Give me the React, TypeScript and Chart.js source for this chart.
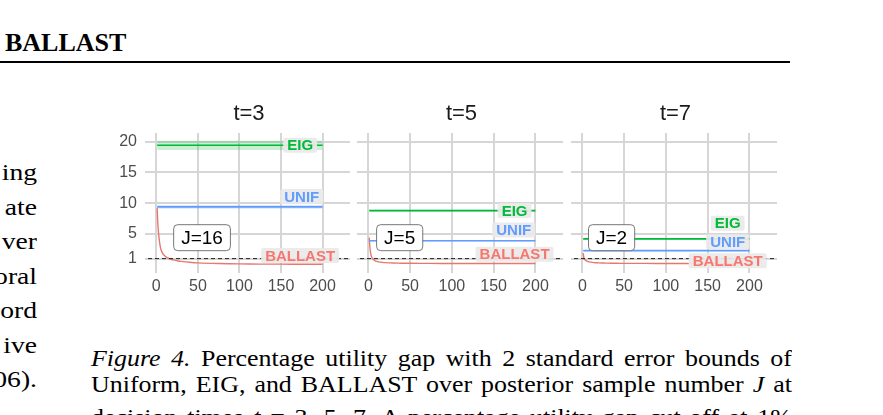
import { useEffect, useRef } from 'react';
import { Chart, registerables } from 'chart.js';

Chart.register(...registerables);

// posterior sample number J at which BALLAST is evaluated
const sampleJ = [1, 2, 3, 4, 5, 6, 8, 10, 12, 14, 16, 20, 25, 30, 40, 50, 75, 100, 125, 150, 175, 200];

// percentage utility gap of BALLAST, one list per decision time
const ballastT3 = [9.2, 6.3, 4.7, 3.6, 2.8, 2.3, 1.75, 1.45, 1.25, 1.1, 0.98, 0.8, 0.66, 0.55, 0.4, 0.3, 0.2, 0.14, 0.11, 0.1, 0.09, 0.08];
const ballastT5 = [4.4, 2.6, 1.7, 1.25, 1.0, 0.85, 0.65, 0.55, 0.48, 0.43, 0.4, 0.35, 0.31, 0.28, 0.25, 0.24, 0.22, 0.21, 0.2, 0.2, 0.2, 0.2];
const ballastT7 = [1.9, 0.98, 0.8, 0.7, 0.62, 0.56, 0.48, 0.42, 0.38, 0.35, 0.33, 0.3, 0.28, 0.26, 0.24, 0.23, 0.22, 0.21, 0.2, 0.2, 0.2, 0.2];

const panelTitles = ['t=3', 't=5', 't=7'];
const eigGap = [19.4, 8.8, 4.2];
const eigSe = [0.75, 0.15, 0.12];
const unifGap = [9.4, 3.9, 2.3];
const unifSe = [0.3, 0.12, 0.1];
const cutoffJ = [16, 5, 2];
const cutoffGap = 1;

const xTicks = [0, 50, 100, 150, 200];
const yTicks = [1, 5, 10, 15, 20];

const GREEN = '#00BA38';
const BLUE = '#619CFF';
const RED = '#F8766D';
const SANS = '"Liberation Sans", Arial, sans-serif';
const SERIF = '"Liberation Serif", "Times New Roman", serif';

// where the text labels sit (data coordinates)
const labelSpots = [
  { eig: [173, 19.4], unif: [175, 11.1], ballast: [173, 1.5], j: [55, 4.4] },
  { eig: [175, 8.8], unif: [174, 5.65], ballast: [175, 1.7], j: [37.5, 4.4] },
  { eig: [174, 6.75], unif: [174, 3.75], ballast: [174, 0.67], j: [35, 4.4] },
];

const panelBoxes = [
  { left: 100, width: 255, axisWidth: 48, showY: true },
  { left: 355, width: 213, axisWidth: 5, showY: false },
  { left: 568, width: 214, axisWidth: 6, showY: false },
];

function band(mean: number, se: number, sign: number) {
  return [sampleJ[0], sampleJ[sampleJ.length - 1]].map((j) => ({ x: j, y: mean + sign * se }));
}

function roundRect(ctx: CanvasRenderingContext2D, x: number, y: number, w: number, h: number, r: number) {
  ctx.beginPath();
  ctx.moveTo(x + r, y);
  ctx.lineTo(x + w - r, y);
  ctx.quadraticCurveTo(x + w, y, x + w, y + r);
  ctx.lineTo(x + w, y + h - r);
  ctx.quadraticCurveTo(x + w, y + h, x + w - r, y + h);
  ctx.lineTo(x + r, y + h);
  ctx.quadraticCurveTo(x, y + h, x, y + h - r);
  ctx.lineTo(x, y + r);
  ctx.quadraticCurveTo(x, y, x + r, y);
  ctx.closePath();
}

function Panel({ index }: { index: number }) {
  const canvasRef = useRef<HTMLCanvasElement>(null);
  const chartRef = useRef<Chart | null>(null);
  const box = panelBoxes[index];

  useEffect(() => {
    if (!canvasRef.current) return;
    const ctx = canvasRef.current.getContext('2d');
    if (!ctx) return;
    if (chartRef.current) chartRef.current.destroy();

    const ballast = [ballastT3, ballastT5, ballastT7][index];
    const spots = labelSpots[index];

    const decor = {
      id: 'decor',
      afterDatasetsDraw(chart: any) {
        const { ctx: c, chartArea, scales } = chart;
        const xs = scales.x;
        const ys = scales.y;
        c.save();
        // 1% cut-off
        const yc = ys.getPixelForValue(cutoffGap);
        c.beginPath();
        c.setLineDash([4, 3]);
        c.strokeStyle = '#222';
        c.lineWidth = 1;
        c.moveTo(chartArea.left, yc);
        c.lineTo(chartArea.right, yc);
        c.stroke();
        c.setLineDash([]);

        const tags: [string, number[], string][] = [
          ['EIG', spots.eig, GREEN],
          ['UNIF', spots.unif, BLUE],
          ['BALLAST', spots.ballast, RED],
        ];
        c.font = `bold 15px ${SANS}`;
        c.textAlign = 'center';
        c.textBaseline = 'middle';
        for (const [text, pos, col] of tags) {
          const px = xs.getPixelForValue(pos[0]);
          const py = ys.getPixelForValue(pos[1]);
          const w = c.measureText(text).width + 8;
          const h = 15;
          roundRect(c, px - w / 2, py - h / 2, w, h, 2);
          c.fillStyle = 'rgba(233,233,233,0.93)';
          c.fill();
          c.fillStyle = col;
          c.fillText(text, px, py + 1);
        }

        // J label
        const jt = `J=${cutoffJ[index]}`;
        c.font = `19px ${SANS}`;
        const jx = xs.getPixelForValue(spots.j[0]);
        const jy = ys.getPixelForValue(spots.j[1]);
        const jw = c.measureText(jt).width + 15;
        const jh = 26;
        roundRect(c, jx - jw / 2, jy - jh / 2, jw, jh, 4);
        c.fillStyle = '#ffffff';
        c.fill();
        c.strokeStyle = '#555';
        c.lineWidth = 0.8;
        c.stroke();
        c.fillStyle = '#000';
        c.fillText(jt, jx, jy + 1);

        // panel title
        c.font = `22px ${SANS}`;
        c.fillStyle = '#1a1a1a';
        c.fillText(panelTitles[index], (chartArea.left + chartArea.right) / 2, 19);
        c.restore();
      },
    };

    chartRef.current = new Chart(ctx, {
      type: 'line',
      data: {
        datasets: [
          { data: band(eigGap[index], eigSe[index], -1), borderWidth: 0, pointRadius: 0, fill: false },
          { data: band(eigGap[index], eigSe[index], 1), borderWidth: 0, pointRadius: 0, fill: '-1', backgroundColor: 'rgba(0,186,56,0.22)' },
          { data: band(eigGap[index], 0, 1), borderColor: GREEN, borderWidth: 1.6, pointRadius: 0 },
          { data: band(unifGap[index], unifSe[index], -1), borderWidth: 0, pointRadius: 0, fill: false },
          { data: band(unifGap[index], unifSe[index], 1), borderWidth: 0, pointRadius: 0, fill: '-1', backgroundColor: 'rgba(97,156,255,0.22)' },
          { data: band(unifGap[index], 0, 1), borderColor: BLUE, borderWidth: 1.6, pointRadius: 0 },
          { data: sampleJ.map((j, i) => ({ x: j, y: ballast[i] })), borderColor: '#E8776E', borderWidth: 1.4, pointRadius: 0, tension: 0.3 },
        ],
      },
      options: {
        animation: false,
        responsive: true,
        maintainAspectRatio: false,
        layout: { padding: { top: 38, right: 5, left: 0, bottom: 0 } },
        plugins: { legend: { display: false }, tooltip: { enabled: false } },
        scales: {
          x: {
            type: 'linear',
            min: -10,
            max: 233,
            afterBuildTicks: (s: any) => { s.ticks = xTicks.map((v) => ({ value: v })); },
            afterFit: (s: any) => { s.height = 35; },
            grid: { color: '#d6d6d6', lineWidth: 2, tickLength: 3 },
            border: { display: false },
            ticks: { color: '#4d4d4d', font: { family: SANS, size: 16 }, padding: 4, maxRotation: 0, autoSkip: false },
          },
          y: {
            type: 'linear',
            min: -0.85,
            max: 21.4,
            afterBuildTicks: (s: any) => { s.ticks = yTicks.map((v) => ({ value: v })); },
            afterFit: (s: any) => { s.width = box.axisWidth; },
            grid: { color: '#d6d6d6', lineWidth: 2, tickLength: 3 },
            border: { display: false },
            ticks: { display: box.showY, color: '#4d4d4d', font: { family: SANS, size: 16 }, padding: 8 },
          },
        },
      },
      plugins: [decor],
    } as any);

    return () => {
      if (chartRef.current) {
        chartRef.current.destroy();
        chartRef.current = null;
      }
    };
  }, [index]);

  return (
    <div style={{ position: 'absolute', left: box.left, top: 95, width: box.width, height: 210 }}>
      <canvas ref={canvasRef} />
    </div>
  );
}

const sideLines = ['ing', 'ate', 'ver', 'oral', 'ord', 'ive', '2006).'];

const captionLines = [
  <><i>Figure 4.</i> Percentage utility gap with 2 standard error bounds of</>,
  <>Uniform, EIG, and BALLAST over posterior sample number <i>J</i> at</>,
  <>decision times <i>t</i> = 3, 5, 7. A percentage utility gap cut-off at 1%</>,
];
const captionBaselines = [366, 392, 425];

export default function App() {
  return (
    <div style={{ position: 'absolute', left: 0, top: 0, width: 883, height: 415, overflow: 'hidden', background: '#fff', fontFamily: SERIF, color: '#000' }}>
      <div style={{ position: 'absolute', left: 5, top: 30, fontSize: 26, lineHeight: '26px', fontWeight: 'bold' }}>BALLAST</div>
      <div style={{ position: 'absolute', left: 0, top: 60.5, width: 790, height: 2, background: '#000' }} />
      {sideLines.map((t, i) => (
        <div key={i} style={{ position: 'absolute', left: -300, width: 337, top: 180 + i * 34.5 - 20, fontSize: 24, lineHeight: '24px', textAlign: 'right', whiteSpace: 'nowrap', transform: 'scaleX(1.15)', transformOrigin: '337px 0' }}>{t}</div>
      ))}
      {captionLines.map((t, i) => (
        <div key={i} style={{ position: 'absolute', left: 91, width: 649, top: captionBaselines[i] - 20, fontSize: 24, lineHeight: '24px', textAlign: 'justify', textAlignLast: 'justify', whiteSpace: 'nowrap', transform: 'scaleX(1.08)', transformOrigin: '0 0' } as any}>{t}</div>
      ))}
      {panelBoxes.map((_, i) => <Panel key={i} index={i} />)}
    </div>
  );
}
